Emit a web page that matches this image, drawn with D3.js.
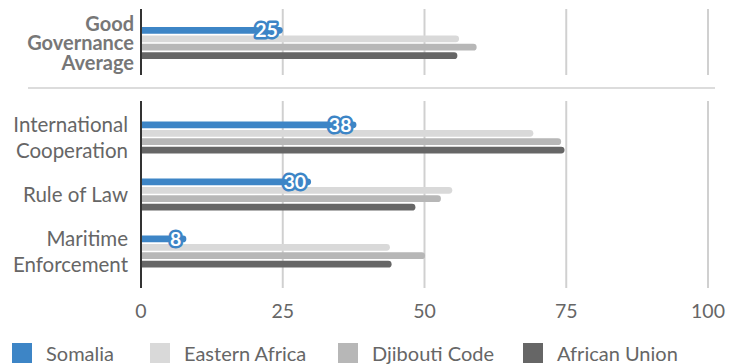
<!DOCTYPE html>
<html>
<head>
<meta charset="utf-8">
<script src="https://cdn.jsdelivr.net/npm/d3@7"></script>
<style>
  html, body { margin: 0; padding: 0; background: #fff; }
  svg { display: block; font-family: Lato, "Open Sans", sans-serif; }
</style>
</head>
<body>
<svg id="chart" width="739" height="364"></svg>
<script>
// Governance scores by pillar, 0–100
const series = ["Somalia", "Eastern Africa", "Djibouti Code", "African Union"];
const summaryCategory = "Good Governance Average";
const summaryValues = [25, 56.1, 59.2, 55.8];
const categories = ["International Cooperation", "Rule of Law", "Maritime Enforcement"];
const somalia = [38, 30, 8];
const easternAfrica = [69.2, 54.9, 43.9];
const djiboutiCode = [74.1, 52.9, 50.1];
const africanUnion = [74.7, 48.4, 44.2];
const xTicks = [0, 25, 50, 75, 100];
const colors = ["#3d85c6", "#d9d9d9", "#b7b7b7", "#666666"];

const svg = d3.select("#chart");
const x = d3.scaleLinear().domain([0, 100]).range([141, 708]);
const color = d3.scaleOrdinal().domain(series).range(colors);
const inner = d3.scaleBand().domain(series).range([-16, 16]).paddingInner(0.2);

const rowsFor = (vals) => series.map((s, i) => ({ series: s, value: vals[i] }));

function panel(cats, valueRows, y, yTop, yBottom, labelStyle) {
  const g = svg.append("g");
  // vertical grid lines
  g.selectAll("line.grid").data(xTicks.slice(1)).join("line")
    .attr("x1", d => x(d)).attr("x2", d => x(d))
    .attr("y1", yTop).attr("y2", yBottom)
    .attr("stroke", "#d0d0d0").attr("stroke-width", 2);

  cats.forEach((cat, ci) => {
    const cy = y(cat);
    const rows = valueRows[ci];
    const h = inner.bandwidth();
    // bars: square start, rounded end
    g.selectAll(null).data(rows).join("path")
      .attr("fill", d => color(d.series))
      .attr("d", d => {
        const y0 = cy + inner(d.series), x0 = x(0), x1 = x(d.value), r = h / 2;
        return `M${x0},${y0}H${x1 - r}A${r},${r} 0 0 1 ${x1 - r},${y0 + h}H${x0}Z`;
      });
    // value label on the Somalia bar
    const s = rows[0];
    g.append("text")
      .attr("x", x(s.value) - 5)
      .attr("y", cy + inner(s.series) + h / 2)
      .attr("dy", "0.36em")
      .attr("text-anchor", "end")
      .attr("font-size", 19.5).attr("font-weight", 700)
      .attr("fill", "#fff")
      .attr("stroke", colors[0]).attr("stroke-width", 5)
      .attr("stroke-linejoin", "round")
      .attr("paint-order", "stroke")
      .text(d3.format("d")(s.value));

    // category label
    const words = labelStyle.lines(cat);
    const t = g.append("text")
      .attr("text-anchor", "end")
      .attr("font-size", labelStyle.size)
      .attr("font-weight", labelStyle.weight)
      .attr("fill", labelStyle.color);
    const n = words.length;
    words.forEach((w, wi) => {
      t.append("tspan")
        .attr("x", labelStyle.x)
        .attr("y", cy + labelStyle.shift + (wi - (n - 1) / 2) * labelStyle.lh)
        .text(w);
    });
  });

  // zero axis line
  g.append("line")
    .attr("x1", x(0)).attr("x2", x(0))
    .attr("y1", yTop).attr("y2", yBottom)
    .attr("stroke", "#333").attr("stroke-width", 2);
}

// summary panel
const yTopPanel = d3.scalePoint().domain([summaryCategory]).range([43, 43]);
panel([summaryCategory], [rowsFor(summaryValues)], yTopPanel, 9, 75, {
  size: 20, weight: 700, color: "#777", x: 134, lh: 19.5, shift: 7,
  lines: () => ["Good", "Governance", "Average"]
});

// separator
svg.append("line")
  .attr("x1", 28).attr("x2", 715).attr("y1", 88).attr("y2", 88)
  .attr("stroke", "#dcdcdc").attr("stroke-width", 2);

// pillar panel
const yPillars = d3.scalePoint().domain(categories).range([101, 288]).padding(0.64);
const pillarRows = categories.map((c, i) =>
  rowsFor([somalia[i], easternAfrica[i], djiboutiCode[i], africanUnion[i]]));
panel(categories, pillarRows, yPillars, 101, 288, {
  size: 20.5, weight: 400, color: "#666", x: 128, lh: 26, shift: 7.5,
  lines: c => c === "International Cooperation" ? ["International", "Cooperation"]
           : c === "Maritime Enforcement" ? ["Maritime", "Enforcement"] : [c]
});

// x axis tick labels
svg.append("g").selectAll("text").data(xTicks).join("text")
  .attr("x", d => x(d)).attr("y", 318)
  .attr("text-anchor", "middle")
  .attr("font-size", 19.5).attr("fill", "#666")
  .text(d => d);

// legend
const legendX = [12, 150, 338, 523];
const lg = svg.append("g").selectAll("g").data(series).join("g")
  .attr("transform", (d, i) => `translate(${legendX[i]},343)`);
lg.append("rect").attr("width", 20).attr("height", 20).attr("fill", d => color(d));
lg.append("text").attr("x", 34).attr("y", 18)
  .attr("font-size", 20).attr("fill", "#666").text(d => d);
</script>
</body>
</html>
